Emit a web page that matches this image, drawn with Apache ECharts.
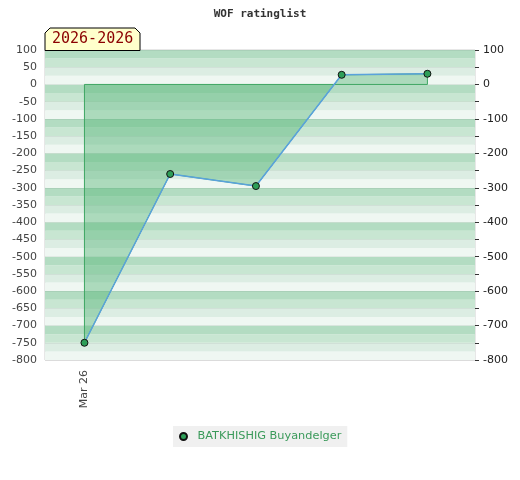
<!DOCTYPE html>
<html>
<head>
<meta charset="utf-8">
<script src="https://cdn.jsdelivr.net/npm/echarts@6/dist/echarts.min.js"></script>
<style>html,body{margin:0;padding:0;background:#fff}#c{width:520px;height:480px}</style>
</head>
<body>
<div id="c"></div>
<script>
const titleText = 'WOF ratinglist';
const periodLabel = '2026-2026';
const playerName = 'BATKHISHIG Buyandelger';
const points = [0, 1, 2, 3, 4];
const ratings = [-750, -260, -295, 28, 31];
const xTickValues = [0];
const xTickLabels = ['Mar 26'];
const yMin = -800, yMax = 100;

const lineData = points.map((p, i) => [p, ratings[i]]);
const outlineData = [[points[0], 0]].concat(lineData, [[points[points.length - 1], 0], [points[0], 0]]);

const chart = echarts.init(document.getElementById('c'));
const font = 'DejaVu Sans';
chart.setOption({
  animation: false,
  backgroundColor: '#fff',
  title: {
    text: titleText, left: 'center', top: 4,
    textStyle: { fontFamily: 'DejaVu Sans Mono', fontSize: 11, fontWeight: 'bold', color: '#333' }
  },
  grid: { left: 45, right: 45, top: 50, bottom: 120, show: true, borderColor: '#cfcfcf', borderWidth: 1, backgroundColor: 'transparent' },
  legend: {
    bottom: 33, left: 173, data: [{ name: playerName, icon: 'circle' }],
    backgroundColor: '#f0f0f0', padding: [5, 6, 5, 6],
    itemWidth: 18, itemHeight: 7, itemGap: 10,
    textStyle: { fontFamily: font, fontSize: 11.3, color: '#3a9a5a' }
  },
  xAxis: {
    type: 'value', min: -0.46, max: 4.555,
    axisLine: { show: false }, axisTick: { show: false }, splitLine: { show: false },
    axisLabel: {
      customValues: xTickValues, rotate: 90, margin: 10,
      fontFamily: font, fontSize: 11, color: '#444',
      formatter: v => { const i = xTickValues.indexOf(v); return i >= 0 ? xTickLabels[i] : ''; }
    }
  },
  yAxis: [
    {
      type: 'value', min: yMin, max: yMax, interval: 25, position: 'left',
      axisLine: { show: false }, axisTick: { show: false }, axisLabel: { show: false },
      splitLine: { show: false },
      splitArea: { show: true, areaStyle: { color: ['#eff7f2', '#dcede3', '#c8e6d2', '#b3dcc2'] } }
    },
    {
      type: 'value', min: yMin, max: yMax, interval: 50, position: 'left',
      axisLine: { show: false }, axisTick: { show: false },
      axisLabel: { margin: 8, fontFamily: font, fontSize: 11, color: '#444' },
      splitLine: { show: true, lineStyle: { color: 'rgba(0,0,0,0.05)', width: 1 } }
    },
    {
      type: 'value', min: yMin, max: yMax, interval: 50, position: 'right',
      axisLine: { show: false },
      axisTick: { show: true, length: 4, lineStyle: { color: '#333' } },
      axisLabel: {
        margin: 8, fontFamily: font, fontSize: 11, color: '#222',
        formatter: v => (v % 100 === 0 ? String(v) : '')
      },
      splitLine: { show: false }
    }
  ],
  graphic: [
    {
      type: 'polygon', z: 100,
      shape: { points: [[45, 50.5], [45, 33], [50, 28], [135, 28], [140, 33], [140, 50.5]] },
      style: { fill: '#ffffcc', stroke: '#000', lineWidth: 1 }
    },
    {
      type: 'text', z: 101, left: 52, top: 32,
      style: { text: periodLabel, fill: '#8b0000', font: '15px "DejaVu Sans Mono"' }
    }
  ],
  series: [
    {
      name: 'outline', type: 'line', yAxisIndex: 1, data: outlineData,
      symbol: 'none', silent: true, z: 2,
      lineStyle: { color: '#3aa35f', width: 1 }
    },
    {
      name: playerName, type: 'line', yAxisIndex: 1, data: lineData,
      symbol: 'circle', symbolSize: 7, z: 3,
      itemStyle: { color: '#2e9e58', borderColor: '#111', borderWidth: 1 },
      lineStyle: { color: '#5aa2dc', width: 1.5 },
      areaStyle: { color: 'rgba(79,178,114,0.6)' }
    }
  ]
});
</script>
</body>
</html>
